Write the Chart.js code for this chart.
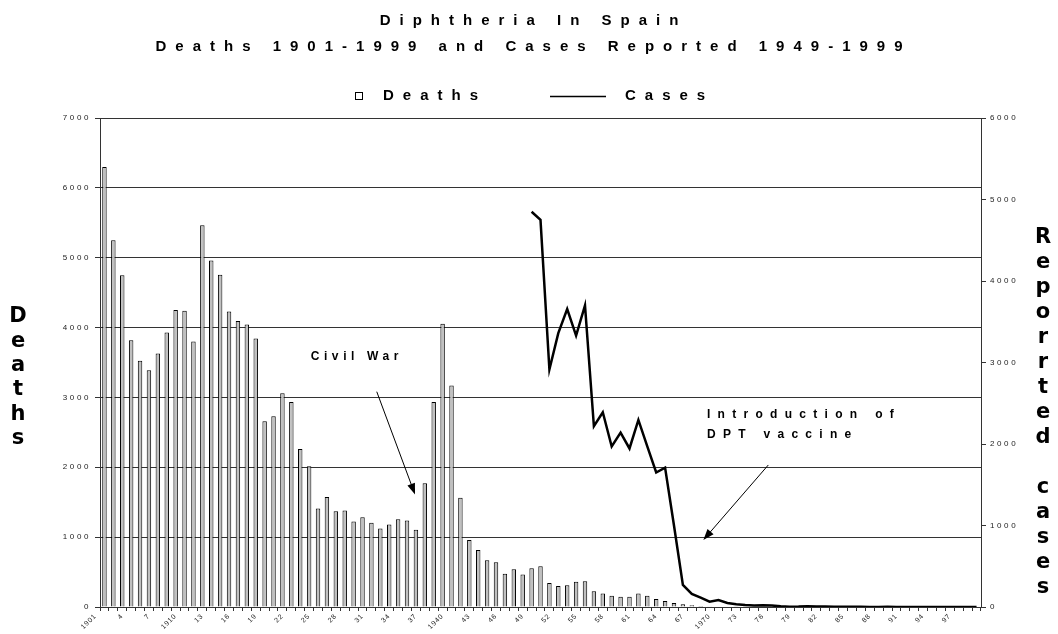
<!DOCTYPE html>
<html>
<head>
<meta charset="utf-8">
<title>Diphtheria In Spain</title>
<script src="https://cdn.jsdelivr.net/npm/chart.js"></script>
<style>
    html, body { margin: 0; padding: 0; background: #fff; }
</style>
</head>
<body>
<canvas id="diphtheriaChart" width="1058" height="634"></canvas>
<script>
// years 1901-1999 on the category axis
var years = Array.from({ length: 99 }, (_, i) => String(1901 + i));

// labels shown under every third year
var xTickLabels = ['1901', '4', '7', '1910', '13', '16', '19', '22', '25', '28', '31',
    '34', '37', '1940', '43', '46', '49', '52', '55', '58', '61', '64', '67', '1970',
    '73', '76', '79', '82', '85', '88', '91', '94', '97'];

// Deaths 1901-1999
var deaths = [
    6300, 5250, 4750, 3820, 3525, 3390, 3630, 3930, 4250, 4240,
    3800, 5465, 4960, 4755, 4230, 4095, 4045, 3845, 2660, 2730,
    3060, 2935, 2260, 2015, 1410, 1575, 1370, 1380, 1225, 1285,
    1205, 1125, 1180, 1255, 1240, 1105, 1770, 2935, 4055, 3170,
    1565, 960, 815, 670, 640, 475, 540, 465, 555, 585,
    345, 300, 310, 360, 370, 225, 195, 160, 145, 145,
    195, 160, 115, 85, 58, 38, 26, 16, 11, 8,
    6, 5, 4, 3, 3, 2, 2, 1, 1, 1,
    1, 1, 0, 1, 0, 0, 0, 0, 0, 0,
    0, 0, 0, 0, 0, 0, 0, 0, 0
];

// Cases reported 1949-1999
var casesFirstYear = 1949;
var cases = [
    4850, 4750, 2915, 3360, 3655, 3330, 3700, 2220, 2390, 1970,
    2140, 1945, 2295, 1970, 1650, 1710, 1000, 270, 160, 115,
    65, 85, 50, 35, 25, 18, 20, 18, 8, 3,
    5, 10, 6, 5, 4, 2, 3, 2, 1, 1,
    2, 1, 1, 0, 1, 0, 0, 0, 0, 0, 0
];

var deathTicks = { min: 0, max: 7000, step: 1000 };
var caseTicks = { min: 0, max: 6000, step: 1000 };

// notes on the chart, anchored in data space (category index, deaths)
var notes = [
    { lines: ['Civil War'], idx: 28.1, value: 3580, align: 'center', spacing: 4.6 },
    { lines: ['Introduction of', 'DPT vaccine'], idx: 67.7, value: 2746, align: 'left', spacing: 7.3 }
];
var arrows = [
    { from: [30.6, 3082], to: [34.9, 1610] },
    { from: [74.6, 2033], to: [67.3, 959] }
];

var FONT = '"Liberation Sans", Arial, sans-serif';

var casesLine = years.map(function (y) {
    var i = Number(y) - casesFirstYear;
    return i >= 0 ? cases[i] : null;
});

function spacedText(ctx, str, x, y, spacing, align) {
    ctx.letterSpacing = spacing + 'px';
    ctx.textAlign = align;
    var dx = 0;
    if (align === 'center') dx = spacing / 2;
    if (align === 'right') dx = spacing;
    ctx.fillText(str, x + dx, y);
}

function drawArrow(ctx, x1, y1, x2, y2) {
    var ang = Math.atan2(y2 - y1, x2 - x1);
    var len = 11, half = 4;
    ctx.beginPath();
    ctx.moveTo(x1, y1);
    ctx.lineTo(x2 - Math.cos(ang) * len * 0.7, y2 - Math.sin(ang) * len * 0.7);
    ctx.stroke();
    ctx.beginPath();
    ctx.moveTo(x2, y2);
    ctx.lineTo(x2 - len * Math.cos(ang) + half * Math.sin(ang), y2 - len * Math.sin(ang) - half * Math.cos(ang));
    ctx.lineTo(x2 - len * Math.cos(ang) - half * Math.sin(ang), y2 - len * Math.sin(ang) + half * Math.cos(ang));
    ctx.closePath();
    ctx.fill();
}

// Excel style texts: spaced title, legend, stacked axis titles, notes
var excelText = {
    id: 'excelText',
    afterUpdate: function (chart) {
        // year labels are less spaced than the value labels
        var sx = chart.scales.x;
        if (!sx._spaced) {
            var orig = sx.drawLabels;
            sx.drawLabels = function (area) {
                var prev = this.ctx.letterSpacing;
                this.ctx.letterSpacing = '0.8px';
                orig.call(this, area);
                this.ctx.letterSpacing = prev;
            };
            sx._spaced = true;
        }
    },
    beforeDraw: function (chart) {
        chart.ctx.letterSpacing = '2.6px';
    },
    afterDraw: function (chart) {
        var ctx = chart.ctx;
        var x = chart.scales.x, y = chart.scales.y;
        ctx.save();
        ctx.fillStyle = '#000';
        ctx.strokeStyle = '#000';
        ctx.textBaseline = 'middle';

        //Title
        ctx.font = 'bold 15px ' + FONT;
        spacedText(ctx, 'Diphtheria In Spain', 529, 21, 9, 'center');
        spacedText(ctx, 'Deaths 1901-1999 and Cases Reported 1949-1999', 529, 47, 9, 'center');

        //Legend
        ctx.lineWidth = 1;
        ctx.fillStyle = '#fff';
        ctx.fillRect(355.5, 92.5, 7, 7);
        ctx.strokeRect(355.5, 92.5, 7, 7);
        ctx.fillStyle = '#000';
        spacedText(ctx, 'Deaths', 383, 96, 9, 'left');
        ctx.lineWidth = 1.5;
        ctx.beginPath();
        ctx.moveTo(550, 96.5);
        ctx.lineTo(606, 96.5);
        ctx.stroke();
        spacedText(ctx, 'Cases', 625, 96, 9, 'left');

        //Axis titles, one letter per row
        ctx.font = 'bold 21px "DejaVu Sans", sans-serif';
        'Deaths'.split('').forEach(function (ch, i) {
            spacedText(ctx, ch, 18, 317 + i * 24.3, 0, 'center');
        });
        'Reporrted cases'.split('').forEach(function (ch, i) {
            spacedText(ctx, ch, 1043, 238 + i * 25, 0, 'center');
        });

        //Notes
        ctx.font = 'bold 12px ' + FONT;
        notes.forEach(function (n) {
            var px = x.getPixelForValue(n.idx);
            var py = y.getPixelForValue(n.value);
            n.lines.forEach(function (line, i) {
                spacedText(ctx, line, px, py + i * 20, n.spacing, n.align);
            });
        });
        ctx.lineWidth = 1;
        arrows.forEach(function (a) {
            drawArrow(ctx,
                x.getPixelForValue(a.from[0]), y.getPixelForValue(a.from[1]),
                x.getPixelForValue(a.to[0]), y.getPixelForValue(a.to[1]));
        });
        ctx.restore();
    }
};

var tickFont = { size: 8, family: FONT };

var ctx = document.getElementById('diphtheriaChart');
var myChart = new Chart(ctx, {
    type: 'bar',
    plugins: [excelText],
    data: {
        labels: years,
        datasets: [{
            type: 'line',
            label: 'Cases',
            data: casesLine,
            yAxisID: 'y1',
            borderColor: '#000',
            borderWidth: 2.5,
            borderJoinStyle: 'miter',
            pointRadius: 0,
            tension: 0,
            fill: false,
            spanGaps: false,
            order: 0
        }, {
            label: 'Deaths',
            data: deaths,
            yAxisID: 'y',
            backgroundColor: '#c0c0c0',
            borderColor: '#000',
            borderWidth: 1,
            categoryPercentage: 1,
            barPercentage: 0.5,
            order: 1
        }]
    },
    options: {
        responsive: false,
        animation: false,
        devicePixelRatio: 1,
        layout: { padding: { top: 118, left: 0, right: 0, bottom: 0 } },
        plugins: {
            legend: { display: false },
            title: { display: false },
            tooltip: { enabled: false }
        },
        scales: {
            x: {
                offset: true,
                grid: { drawOnChartArea: false, drawTicks: true, tickLength: 4, color: '#333', offset: true },
                border: { display: true, color: '#333', width: 1 },
                ticks: {
                    autoSkip: false,
                    minRotation: 45,
                    maxRotation: 45,
                    padding: 1,
                    labelOffset: -9,
                    color: '#222',
                    font: { size: 7, family: FONT },
                    callback: function (v, i) {
                        return i % 3 === 0 ? xTickLabels[i / 3] : '';
                    }
                },
                afterFit: function (s) { s.height = 27; }
            },
            y: {
                position: 'left',
                min: deathTicks.min,
                max: deathTicks.max,
                grid: { color: '#333', tickLength: 5 },
                border: { display: true, color: '#333', width: 1 },
                ticks: {
                    stepSize: deathTicks.step, padding: 4, color: '#222', font: tickFont,
                    callback: function (v) { return String(v); }
                },
                afterFit: function (s) { s.width = 100; }
            },
            y1: {
                position: 'right',
                min: caseTicks.min,
                max: caseTicks.max,
                grid: { drawOnChartArea: false, color: '#333', tickLength: 5 },
                border: { display: true, color: '#333', width: 1 },
                ticks: {
                    stepSize: caseTicks.step, padding: 4, color: '#222', font: tickFont,
                    callback: function (v) { return String(v); }
                },
                afterFit: function (s) { s.width = 77; }
            }
        }
    }
});
</script>
</body>
</html>
